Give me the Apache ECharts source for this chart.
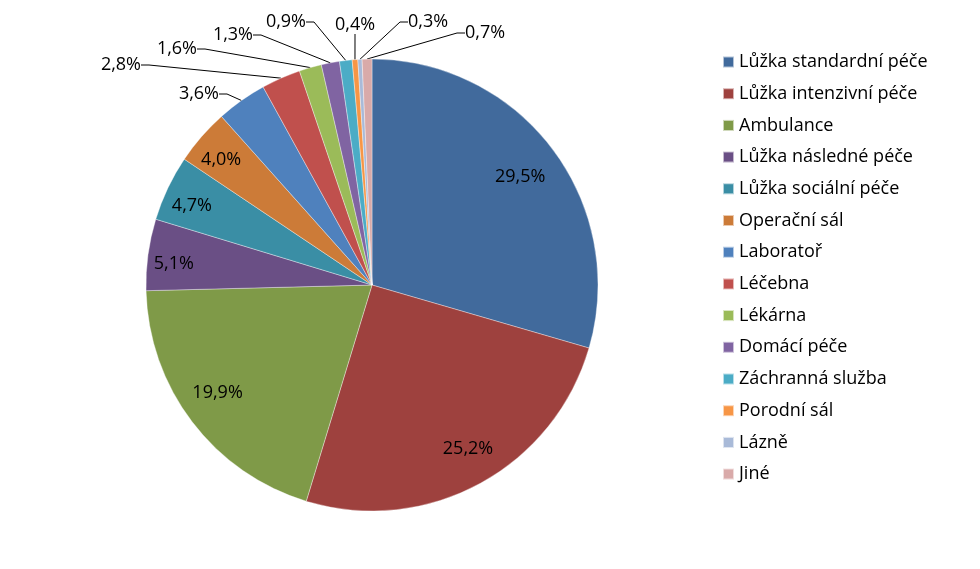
<!DOCTYPE html>
<html>
<head>
<meta charset="utf-8">
<script src="https://cdn.jsdelivr.net/npm/echarts@6/dist/echarts.min.js"></script>
<style>
  html, body { margin: 0; padding: 0; background: #fff; }
  #chart { width: 980px; height: 569px; }
</style>
</head>
<body>
<div id="chart"></div>
<script>
const categories = [
  'Lůžka standardní péče', 'Lůžka intenzivní péče', 'Ambulance', 'Lůžka následné péče',
  'Lůžka sociální péče', 'Operační sál', 'Laboratoř', 'Léčebna', 'Lékárna',
  'Domácí péče', 'Záchranná služba', 'Porodní sál', 'Lázně', 'Jiné'
];
const values = [29.5, 25.2, 19.9, 5.1, 4.7, 4.0, 3.6, 2.8, 1.6, 1.3, 0.9, 0.4, 0.3, 0.7];
const colors = [
  '#416A9C', '#9E413E', '#7F9A48', '#6A4F85', '#3A8EA5', '#CC7B38', '#4F81BD',
  '#C0504D', '#9BBB59', '#8064A2', '#4BACC6', '#F79646', '#A9BAD8', '#D9AAA9'
];
// label groups (indices)
const innerBig = [0, 1, 2];
const innerSmall = [3, 4, 5];
const outsideIdx = [6, 7, 8, 9, 10, 11, 12, 13];
// outside label placement (Excel-style callouts), leader drawn by ECharts to the slice
const placed = {
  6: {x: 219, y: 94, align: 'right'},
  7: {x: 141, y: 65, align: 'right'},
  8: {x: 197, y: 49, align: 'right'},
  9: {x: 253, y: 35, align: 'right'},
  10: {x: 306, y: 22, align: 'right'},
  11: {x: 355, y: 25, align: 'center'},
  12: {x: 408, y: 22, align: 'left'},
  13: {x: 465, y: 33, align: 'left'}
};
// small nudges of inside labels (Excel best-fit placement)
const nudge = {0: [-3, 5], 1: [6, -2], 2: [-4, -7], 3: [-4, 5], 4: [-3, 5], 5: [-3, 4]};

const FONT = '"Open Sans", "Noto Sans", sans-serif';
const FS = 18;
const fmt = v => v.toFixed(1).replace('.', ',') + '%';
const CENTER = [372, 285];
const R = 226;

const chart = echarts.init(document.getElementById('chart'), null, {renderer: 'canvas'});

const mainData = categories.map((name, i) => {
  const out = outsideIdx.includes(i);
  return {
    name, value: values[i],
    itemStyle: {color: colors[i]},
    label: {show: out},
    labelLine: {show: out, length: 10, length2: out && i !== 11 ? 8 : 0}
  };
});

function overlayData(showIdx) {
  return categories.map((name, i) => ({
    name, value: values[i],
    itemStyle: {color: 'rgba(0,0,0,0)', borderWidth: 0},
    label: {show: showIdx.includes(i)}
  }));
}

function nudgeLayout(params) {
  const n = nudge[params.dataIndex];
  return n ? {dx: n[0], dy: n[1]} : {};
}

const option = {
  animation: false,
  backgroundColor: '#fff',
  legend: {
    orient: 'vertical',
    left: 717,
    top: 48,
    icon: 'rect',
    itemWidth: 11,
    itemHeight: 11,
    itemGap: 13.7,
    textStyle: {fontFamily: FONT, fontSize: FS, color: '#000'},
    data: categories,
    selectedMode: false
  },
  series: [
    {
      type: 'pie',
      center: CENTER,
      radius: [0, R],
      startAngle: 90,
      clockwise: true,
      avoidLabelOverlap: false,
      silent: true,
      itemStyle: {borderColor: 'rgba(255,255,255,0.6)', borderWidth: 0.6},
      label: {
        position: 'outside',
        formatter: p => fmt(p.value),
        fontFamily: FONT, fontSize: FS, color: '#000',
        distanceToLabelLine: 3
      },
      labelLine: {lineStyle: {color: '#000', width: 1}, smooth: false},
      labelLayout: function (params) {
        const p = placed[params.dataIndex];
        if (p) return {x: p.x, y: p.y, align: p.align, verticalAlign: 'middle'};
        return {};
      },
      data: mainData
    },
    {
      type: 'pie',
      center: CENTER,
      radius: [156, 216],
      startAngle: 90,
      clockwise: true,
      silent: true,
      avoidLabelOverlap: false,
      label: {position: 'inside', formatter: p => fmt(p.value), fontFamily: FONT, fontSize: FS, color: '#000'},
      labelLine: {show: false},
      labelLayout: nudgeLayout,
      data: overlayData(innerBig)
    },
    {
      type: 'pie',
      center: CENTER,
      radius: [170, 216],
      startAngle: 90,
      clockwise: true,
      silent: true,
      avoidLabelOverlap: false,
      label: {position: 'inside', formatter: p => fmt(p.value), fontFamily: FONT, fontSize: FS, color: '#000'},
      labelLine: {show: false},
      labelLayout: nudgeLayout,
      data: overlayData(innerSmall)
    }
  ]
};
chart.setOption(option);
</script>
</body>
</html>
